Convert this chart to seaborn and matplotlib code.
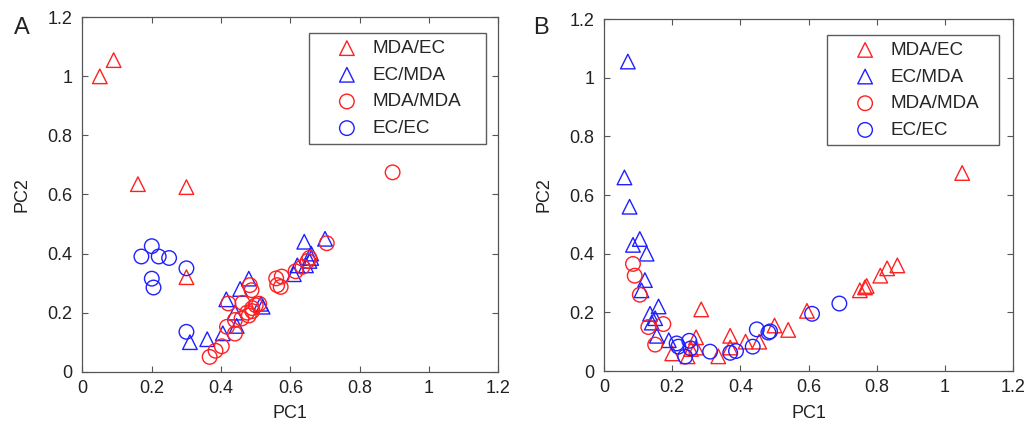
import numpy as np
import pandas as pd
import matplotlib
matplotlib.use('Agg')
import matplotlib.pyplot as plt
import seaborn as sns

# Panel A values
a_mdaec_x = [0.05, 0.09, 0.16, 0.30, 0.30]
a_mdaec_y = [1.00, 1.055, 0.635, 0.625, 0.32]
a_ecmda_x = [0.31, 0.36, 0.405, 0.415, 0.44, 0.445, 0.455, 0.48, 0.515, 0.52,
             0.61, 0.62, 0.645, 0.64, 0.66, 0.66, 0.70, 0.655]
a_ecmda_y = [0.10, 0.11, 0.13, 0.245, 0.20, 0.155, 0.28, 0.315, 0.23, 0.22,
             0.33, 0.36, 0.36, 0.44, 0.40, 0.385, 0.45, 0.375]
a_mdamda_x = [0.895, 0.705, 0.655, 0.65, 0.635, 0.615, 0.559, 0.575, 0.562, 0.572,
              0.483, 0.488, 0.421, 0.462, 0.475, 0.49, 0.50, 0.51, 0.49, 0.48,
              0.44, 0.459, 0.417, 0.44, 0.402, 0.384, 0.367]
a_mdamda_y = [0.675, 0.435, 0.385, 0.375, 0.355, 0.34, 0.316, 0.322, 0.293, 0.287,
              0.293, 0.276, 0.231, 0.233, 0.20, 0.215, 0.225, 0.23, 0.205, 0.19,
              0.175, 0.18, 0.152, 0.129, 0.086, 0.071, 0.05]
a_ecec_x = [0.17, 0.20, 0.22, 0.25, 0.20, 0.205, 0.30, 0.30]
a_ecec_y = [0.39, 0.425, 0.39, 0.385, 0.315, 0.285, 0.35, 0.135]

# Panel B values
b_mdaec_x = [1.05, 0.86, 0.83, 0.81, 0.77, 0.765, 0.75, 0.595, 0.54, 0.50, 0.455,
             0.415, 0.37, 0.37, 0.335, 0.285, 0.27, 0.27, 0.255, 0.245, 0.20]
b_mdaec_y = [0.675, 0.36, 0.35, 0.325, 0.29, 0.285, 0.275, 0.205, 0.14, 0.155, 0.10,
             0.10, 0.12, 0.08, 0.05, 0.21, 0.115, 0.08, 0.075, 0.05, 0.06]
b_ecmda_x = [0.07, 0.06, 0.075, 0.085, 0.105, 0.125, 0.12, 0.11, 0.16, 0.135,
             0.15, 0.14, 0.155, 0.19]
b_ecmda_y = [1.055, 0.66, 0.56, 0.43, 0.45, 0.40, 0.31, 0.275, 0.22, 0.195,
             0.18, 0.165, 0.12, 0.105]
b_mdamda_x = [0.085, 0.09, 0.105, 0.13, 0.174, 0.15]
b_mdamda_y = [0.365, 0.325, 0.26, 0.15, 0.16, 0.09]
b_ecec_x = [0.213, 0.218, 0.238, 0.25, 0.254, 0.311, 0.37, 0.387, 0.436, 0.448,
            0.482, 0.487, 0.61, 0.69]
b_ecec_y = [0.094, 0.083, 0.049, 0.103, 0.077, 0.066, 0.062, 0.068, 0.083, 0.142,
            0.131, 0.135, 0.195, 0.23]

groups = ['MDA/EC', 'EC/MDA', 'MDA/MDA', 'EC/EC']
tick_vals = [0, 0.2, 0.4, 0.6, 0.8, 1.0, 1.2]
tick_labels = ['0', '0.2', '0.4', '0.6', '0.8', '1', '1.2']

colors = {'MDA/EC': '#ff2020', 'EC/MDA': '#2020ff', 'MDA/MDA': '#ff2020', 'EC/EC': '#2020ff'}
markers = {'MDA/EC': '^', 'EC/MDA': '^', 'MDA/MDA': 'o', 'EC/EC': 'o'}

panel_a = {'MDA/EC': (a_mdaec_x, a_mdaec_y), 'EC/MDA': (a_ecmda_x, a_ecmda_y),
           'MDA/MDA': (a_mdamda_x, a_mdamda_y), 'EC/EC': (a_ecec_x, a_ecec_y)}
panel_b = {'MDA/EC': (b_mdaec_x, b_mdaec_y), 'EC/MDA': (b_ecmda_x, b_ecmda_y),
           'MDA/MDA': (b_mdamda_x, b_mdamda_y), 'EC/EC': (b_ecec_x, b_ecec_y)}

sns.set_theme(style='ticks')
plt.rcParams['font.family'] = ['Liberation Sans', 'DejaVu Sans']
plt.rcParams['xtick.direction'] = 'in'
plt.rcParams['ytick.direction'] = 'in'

fig = plt.figure(figsize=(10.27, 4.30), dpi=100)
ax_a = fig.add_axes([0.0803, 0.1356, 0.4049, 0.8242])
ax_b = fig.add_axes([0.5881, 0.1372, 0.3986, 0.8186])


def draw(ax, data, leg_box):
    for g in groups:
        x, y = data[g]
        df = pd.DataFrame({'PC1': x, 'PC2': y})
        sns.scatterplot(data=df, x='PC1', y='PC2', ax=ax, marker=markers[g], s=110,
                        facecolor='none', edgecolor=colors[g], linewidth=1.0, label=g)
    ax.set_xlim(0, 1.2)
    ax.set_ylim(0, 1.2)
    ax.set_xticks(tick_vals)
    ax.set_xticklabels(tick_labels)
    ax.set_yticks(tick_vals)
    ax.set_yticklabels(tick_labels)
    ax.tick_params(which='both', top=True, right=True, length=4, width=0.8,
                   color='#555555', labelsize=13, labelcolor='#222222')
    ax.tick_params(axis='x', pad=6)
    ax.tick_params(axis='y', pad=7)
    for sp in ax.spines.values():
        sp.set_color('#555555')
        sp.set_linewidth(0.9)
    ax.set_xlabel('PC1', fontsize=13, color='#222222', labelpad=6)
    ax.set_ylabel('PC2', fontsize=13, color='#222222', labelpad=12)
    leg = ax.legend(loc='upper left', bbox_to_anchor=leg_box, mode='expand',
                    fontsize=13.6, frameon=True, fancybox=False, edgecolor='#333333',
                    handlelength=3.3, handletextpad=-0.3, labelspacing=0.5,
                    borderpad=0.35, borderaxespad=0)
    leg.get_frame().set_linewidth(1.0)


draw(ax_a, panel_a, (0.545, 0.0, 0.425, 0.955))
draw(ax_b, panel_b, (0.5456, 0.0, 0.419, 0.9545))

fig.text(0.021, 0.935, 'A', fontsize=17, ha='center', va='center', color='#222222')
fig.text(0.527, 0.935, 'B', fontsize=17, ha='center', va='center', color='#222222')

fig.savefig('out.png', dpi=100)
